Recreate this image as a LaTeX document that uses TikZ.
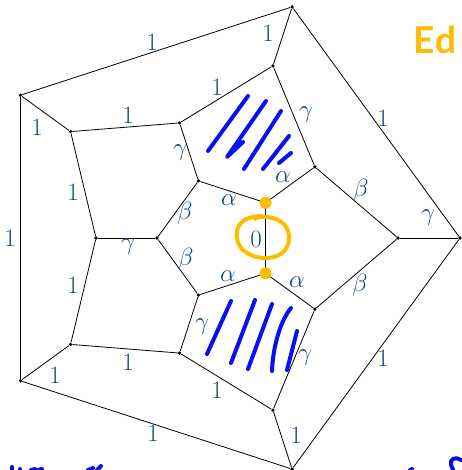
\documentclass[tikz,border=0pt]{standalone}
\usepackage{fontspec}
\newfontfamily\edfont{Lato}
\definecolor{lab}{RGB}{22,72,122}
\definecolor{hl}{RGB}{255,187,0}
\definecolor{pen}{RGB}{8,16,240}
\tikzset{
  v/.style={circle,fill=black,inner sep=0pt,minimum size=3.6pt},
  edge/.style={draw=black,line width=0.8pt},
  lbl/.style={text=lab,inner sep=0pt,font=\fontsize{29}{31}\selectfont},
  odot/.style={circle,fill=hl,inner sep=0pt,minimum size=12pt},
  ring/.style={draw=hl,line width=4pt},
  hatch/.style={draw=pen,line width=4pt,line cap=round,line join=round},
}
\begin{document}
\begin{tikzpicture}[x=1pt,y=-1pt]
\useasboundingbox (0,0) rectangle (461,470);
\begin{scope}[shift={(217,238)}]
\foreach \i in {0,...,4}{
  \node[v] (O\i) at ({-72*\i}:243) {};
  \node[v] (M\i) at ({-72*\i}:181) {};
  \node[v] (A\i) at ({-72*\i-36}:121) {};
  \node[v] (I\i) at ({-72*\i-36}:60) {};
}
\end{scope}
% edges
\foreach \i/\j in {0/1,1/2,2/3,3/4,4/0}{
  \draw[edge] (O\i) -- (O\j);
  \draw[edge] (I\i) -- (I\j);
  \draw[edge] (O\i) -- (M\i);
  \draw[edge] (A\i) -- (I\i);
  \draw[edge] (M\j) -- (A\i);
  \draw[edge] (M\j) -- (A\j);
}
% labels
\foreach \p/\t [count=\k] in {
  {(383,118)}/1, {(152,42)}/1, {(10,238)}/1, {(153,433)}/1, {(383,358)}/1,
  {(428,218)}/\gamma, {(268,33)}/1, {(37,127)}/1, {(55,375)}/1, {(296,435)}/1,
  {(361,190)}/\beta, {(360,285)}/\beta, {(306,115)}/\gamma, {(217,87)}/1,
  {(128,115)}/1, {(73,192)}/1, {(73,285)}/1, {(128,362)}/1, {(217,390)}/1,
  {(305,358)}/\gamma,
  {(283,177)}/\alpha, {(180,153)}/\gamma, {(128,247)}/\gamma, {(202,327)}/\gamma,
  {(297,282)}/\alpha,
  {(229,200)}/\alpha, {(185,213)}/\beta, {(186,259)}/\beta, {(228,276)}/\alpha,
  {(256,239)}/0}
  \node[lbl] (L\k) at \p {$\t$};
% orange annotations
\node[odot] (D1) at (I0) {};
\node[odot] (D2) at (I4) {};
\draw[ring] (263,216) .. controls (240,216) and (235,228) .. (237,239)
  .. controls (239,252) and (255,259) .. (268,258)
  .. controls (282,257) and (290,248) .. (289,236)
  .. controls (288,224) and (278,216) .. (260,217)
  .. controls (257,217) and (255,218) .. (254,220);
\node[text=hl,anchor=base west,inner sep=0pt,font=\edfont\bfseries\fontsize{37}{39}\selectfont] (Ed) at (413,54) {E\kern1pt d};
% blue hatching, top region
\draw[hatch] (248,96) -- (208,151);
\draw[hatch] (266,101) -- (227,157) -- (243,142);
\draw[hatch] (281,111) -- (244,169);
\draw[hatch] (289,136) -- (263,169);
\draw[hatch] (291,153) -- (279,163);
% blue hatching, bottom region
\draw[hatch] (231,301) -- (207,354);
\draw[hatch] (255,300) -- (231,363);
\draw[hatch] (272,304) -- (248,369);
\draw[hatch] (291,308) .. controls (281,320) and (273,345) .. (272,371);
\draw[hatch] (297,331) -- (287,370);
% cut-off writing at the bottom
\draw[hatch] (12,467) -- (12,472);
\draw[hatch] (20,469) -- (20,472);
\draw[hatch] (31,470) -- (35,469);
\draw[hatch] (38,470) -- (42,469);
\draw[hatch] (88,470) -- (93,468);
\draw[hatch] (97,470) -- (101,466);
\draw[hatch] (410,470) -- (412,469);
\draw[hatch] (461,460) .. controls (456,456) and (449,459) .. (451,465) -- (454,472);
\end{tikzpicture}
\end{document}
